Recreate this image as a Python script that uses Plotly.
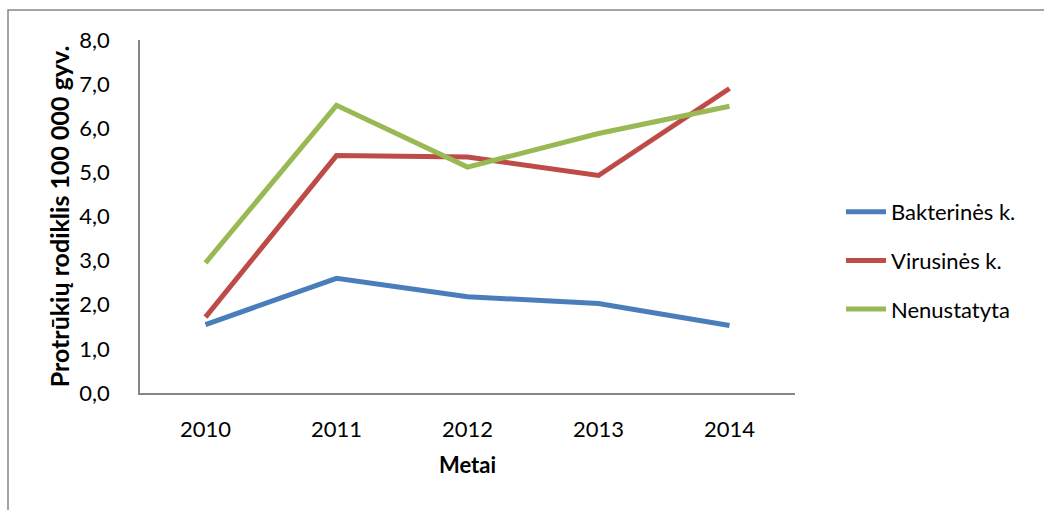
import plotly.graph_objects as go

years = ["2010", "2011", "2012", "2013", "2014"]
bakterines = [1.55, 2.6, 2.18, 2.03, 1.53]
virusines = [1.72, 5.38, 5.35, 4.93, 6.9]
nenustatyta = [2.95, 6.52, 5.12, 5.88, 6.5]
y_ticks = [0, 1, 2, 3, 4, 5, 6, 7, 8]

series = [
    ("Bakterinės k.", bakterines, "#4A7EBB"),
    ("Virusinės k.", virusines, "#BE4B48"),
    ("Nenustatyta", nenustatyta, "#98B954"),
]

fig = go.Figure()
for i, (name, vals, col) in enumerate(series):
    fig.add_trace(go.Scatter(x=years, y=vals, name=name, mode="lines",
                             legendgroup="g%d" % i,
                             line=dict(color=col, width=5)))

W, H = 1044, 510
L, R, T, B = 140, 249, 40, 117
pw, ph = W - L - R, H - T - B

fig.update_layout(
    width=W, height=H,
    margin=dict(l=L, r=R, t=T, b=B),
    paper_bgcolor="white", plot_bgcolor="white",
    font=dict(family="Lato, Open Sans, sans-serif", size=22, color="black"),
    separators=",.",
    showlegend=True,
    legend=dict(x=(841 - L) / pw, y=(393 - 191) / ph, xanchor="left", yanchor="top",
                font=dict(size=22), tracegroupgap=17, itemwidth=40,
                bgcolor="rgba(0,0,0,0)"),
    xaxis=dict(type="category", range=[-0.5, 4.5], showgrid=False,
               showline=True, linecolor="#868686", linewidth=1.5,
               ticks="", ticklabelstandoff=16,
               title=dict(text="<b>Metai</b>", font=dict(size=22), standoff=16)),
    yaxis=dict(range=[0, 8], tickvals=y_ticks, tickformat=".1f", showgrid=False,
               showline=True, linecolor="#868686", linewidth=1.5, zeroline=False,
               ticks="", ticklabelstandoff=24,
               title=dict(text="<b>Protrūkių rodiklis 100 000 gyv.</b>",
                          font=dict(size=25), standoff=3)),
)

fig.add_shape(type="rect", xref="paper", yref="paper",
              x0=(8 - L) / pw, x1=(1060 - L) / pw,
              y0=(393 - 530) / ph, y1=(393 - 10) / ph,
              line=dict(color="#868686", width=1.5), fillcolor="rgba(0,0,0,0)",
              layer="below")

fig.write_html("out.html")
